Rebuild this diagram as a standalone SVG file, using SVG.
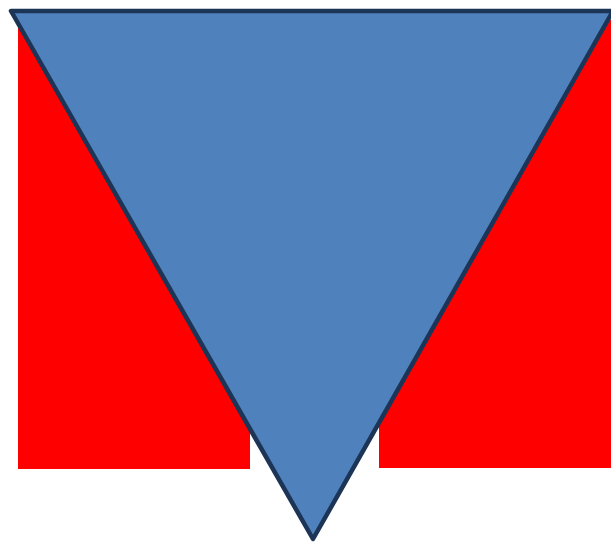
<svg xmlns="http://www.w3.org/2000/svg" width="611" height="543" viewBox="0 0 611 543">
<style>.r{fill:#FF0000}.t{fill:#4F81BD;stroke:#1C3557;stroke-width:4.5;stroke-linejoin:round}</style>
<g id="left-rect"><rect class="r" x="18" y="20" width="232" height="449"/></g>
<g id="right-rect"><rect class="r" x="379" y="20" width="232" height="448"/></g>
<g id="triangle"><polygon class="t" points="11,11 613,11 313,539"/></g>
<g id="connectors"></g>
</svg>
